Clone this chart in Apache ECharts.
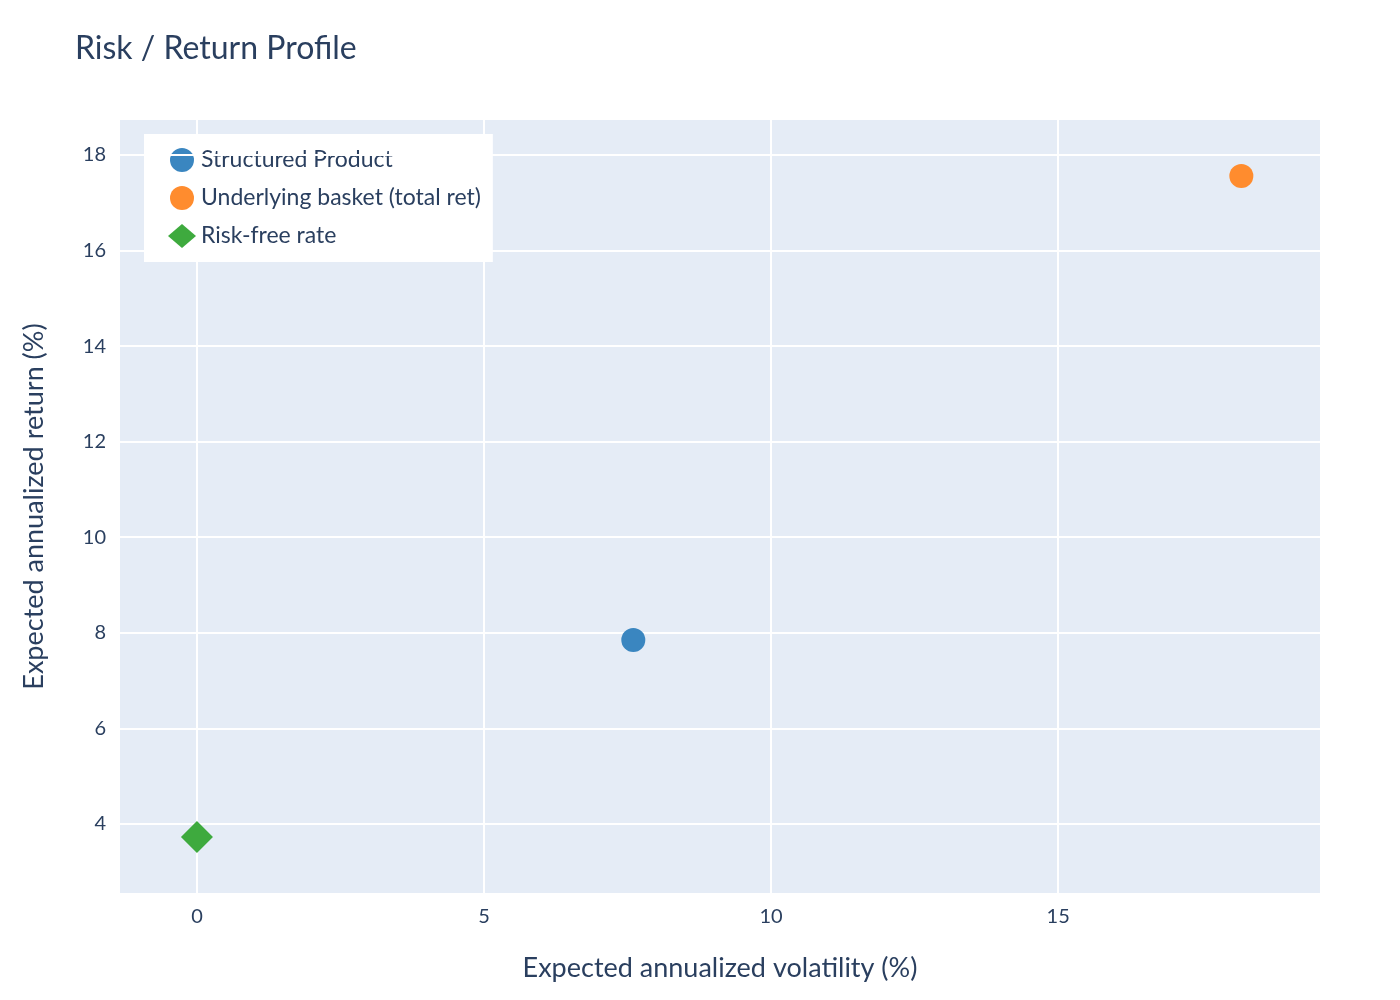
<!DOCTYPE html>
<html><head><meta charset="utf-8">
<script src="https://cdn.jsdelivr.net/npm/echarts@6/dist/echarts.min.js"></script>
<style>html,body{margin:0;padding:0;background:#fff}#c{width:1400px;height:1000px}</style>
</head><body><div id="c"></div>
<script>
const seriesNames = ['Structured Product', 'Underlying basket (total ret)', 'Risk-free rate'];
const volatility = [7.60, 18.19, 0.0];
const returns = [7.85, 17.56, 3.73];
const colors = ['#3a86c0', '#ff8c2e', '#3eaa3e'];
const symbols = ['circle', 'circle', 'diamond'];
const xTicks = [0, 5, 10, 15];
const yTicks = [4, 6, 8, 10, 12, 14, 16, 18];
const font = 'Lato, "Noto Sans", sans-serif';
const txt = '#2a3f5f';

const series = seriesNames.map((n, i) => ({
  name: n, type: 'scatter', symbol: symbols[i],
  symbolSize: symbols[i] === 'diamond' ? 32 : 24,
  itemStyle: { color: colors[i], opacity: 1 },
  data: [[volatility[i], returns[i]]], z: 5
}));
series.push({
  type: 'scatter', data: [], silent: true, z: 1,
  markLine: {
    silent: true, symbol: 'none', animation: false,
    lineStyle: { color: '#fff', width: 2, type: 'solid' },
    label: { show: false },
    data: xTicks.map(v => ({ xAxis: v })).concat(yTicks.map(v => ({ yAxis: v })))
  }
});

const chart = echarts.init(document.getElementById('c'));
chart.setOption({
  animation: false,
  backgroundColor: '#fff',
  title: { text: 'Risk / Return Profile', left: 70, top: 28,
    textStyle: { fontFamily: font, fontSize: 32, fontWeight: 'normal', color: txt } },
  legend: {
    orient: 'vertical', left: 144, top: 134, backgroundColor: '#fff',
    padding: [14, 12, 14, 24], itemGap: 14, itemWidth: 28, itemHeight: 24,
    data: seriesNames,
    textStyle: { fontFamily: font, fontSize: 23, color: txt }
  },
  grid: { left: 120, top: 120, width: 1200, height: 773, show: true, backgroundColor: '#e5ecf6', borderWidth: 0 },
  xAxis: {
    type: 'value', min: -1.34, max: 19.56,
    name: 'Expected annualized volatility (%)', nameLocation: 'middle', nameGap: 62,
    nameTextStyle: { fontFamily: font, fontSize: 27, color: txt },
    axisLine: { show: false }, axisTick: { show: false }, splitLine: { show: false },
    axisLabel: { customValues: xTicks, fontFamily: font, fontSize: 20, color: txt, margin: 14 }
  },
  yAxis: {
    type: 'value', min: 2.556, max: 18.73,
    name: 'Expected annualized return (%)', nameLocation: 'middle', nameGap: 72, nameRotate: 90,
    nameTextStyle: { fontFamily: font, fontSize: 27, color: txt },
    axisLine: { show: false }, axisTick: { show: false }, splitLine: { show: false },
    axisLabel: { customValues: yTicks, fontFamily: font, fontSize: 20, color: txt, margin: 14 }
  },
  series: series
});
</script></body></html>
